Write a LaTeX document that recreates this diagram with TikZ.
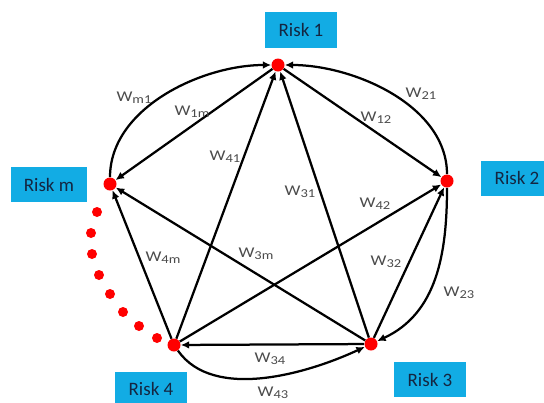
\documentclass[tikz,border=0pt]{standalone}
\usepackage{fontspec}
\setmainfont{Carlito}
\newfontfamily\weightfont[FakeStretch=1.2]{Carlito}
\usetikzlibrary{arrows.meta}
\definecolor{boxBlue}{RGB}{18,172,228}
\definecolor{boxText}{RGB}{20,38,65}
\definecolor{labelGray}{RGB}{75,75,75}
\newcommand{\wt}[1]{W\raisebox{-1.3pt}{\fontsize{8.6}{9}\selectfont #1}}

\begin{document}
\begin{tikzpicture}[x=0.025cm,y=0.025cm,
				riskDot/.style={circle,fill=red,minimum size=0.325cm,inner sep=0pt},
				gapDot/.style={circle,fill=red,minimum size=0.25cm,inner sep=0pt},
				riskBox/.style={fill=boxBlue,text=boxText,font=\fontsize{13.5}{15}\selectfont,minimum height=0.875cm,inner xsep=0.33cm},
				weight/.style={text=labelGray,font=\weightfont\fontsize{10.6}{12}\selectfont,inner sep=0pt},
				link/.style={line width=1.6pt,-{Latex[length=6pt,width=5.5pt]}}]
			\clip (0,0) rectangle (544,-402);
			% risks
			\node [riskDot] (r1) at (278,-65) {};
			\node [riskDot] (r2) at (447,-181) {};
			\node [riskDot] (r3) at (371,-344) {};
			\node [riskDot] (r4) at (174,-345) {};
			\node [riskDot] (rm) at (110,-184) {};
			\node [riskBox] (box1) at (301,-30) {Risk 1};
			\node [riskBox] (box2) at (517,-178) {Risk 2};
			\node [riskBox] (box3) at (430,-379.5) {Risk 3};
			\node [riskBox] (box4) at (151,-389) {Risk 4};
			\node [riskBox] (boxm) at (49,-184.5) {Risk m};
			% the risks left out
			\foreach \px/\py [count=\i] in {97/212, 91/233, 92/254, 99/275, 110/294, 123/312, 139/326, 157/338}
				\node [gapDot] (gap\i) at (\px,-\py) {};
			% weights
			\draw [link] (r1) -- (rm);
			\draw [link] (r1) -- (r2);
			\draw [link] (r4) -- (r1);
			\draw [link] (r3) -- (r1);
			\draw [link] (r3) -- (r2);
			\draw [link] (r4) -- (r2);
			\draw [link] (r3) -- (r4);
			\draw [link] (r4) -- (rm);
			\draw [link] (r3) -- (rm);
			\draw [link] (rm) to[out=90,in=180,looseness=0.9] (r1);
			\draw [link] (r2) to[out=90,in=0,looseness=0.9] (r1);
			\draw [link] (r2) to[out=-90,in=25] (r3);
			\draw [link] (r4) to[out=-55,in=205,looseness=0.85] (r3);
			\node [weight] (wm1) at (134,-98) {\wt{m1}};
			\node [weight] (w1m) at (192,-112) {\wt{1m}};
			\node [weight] (w41) at (225,-157) {\wt{41}};
			\node [weight] (w21) at (421,-94) {\wt{21}};
			\node [weight] (w12) at (376,-118) {\wt{12}};
			\node [weight] (w31) at (300,-192) {\wt{31}};
			\node [weight] (w42) at (375,-204) {\wt{42}};
			\node [weight] (w4m) at (163,-258) {\wt{4m}};
			\node [weight] (w3m) at (256,-254) {\wt{3m}};
			\node [weight] (w32) at (386,-262) {\wt{32}};
			\node [weight] (w23) at (459,-293) {\wt{23}};
			\node [weight] (w34) at (270,-359) {\wt{34}};
			\node [weight] (w43) at (273,-393) {\wt{43}};
		\end{tikzpicture}
\end{document}
